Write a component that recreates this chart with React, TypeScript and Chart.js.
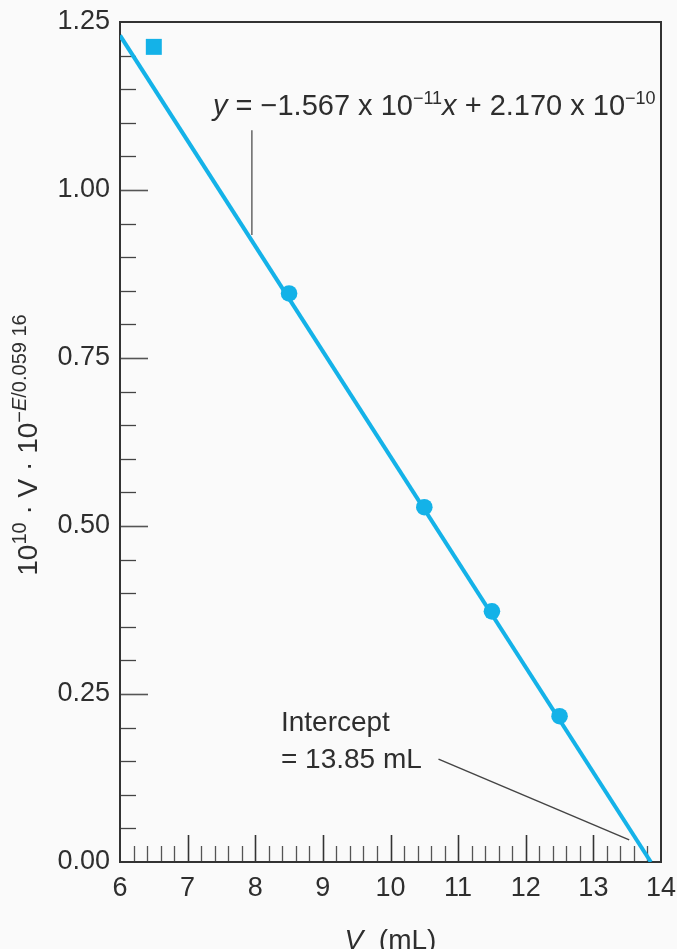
import React, { useEffect, useRef } from "react";
import { Chart, registerables } from "chart.js";

Chart.register(...registerables);

// ---- data ----
const fitLineV = [6, 13.85];
const fitLineY = [1.23, 0];
const circleV = [8.5, 10.5, 11.5, 12.5];
const circleY = [0.846, 0.528, 0.373, 0.217];
const squareV = [6.5];
const squareY = [1.213];
const xTickValues = [6, 7, 8, 9, 10, 11, 12, 13, 14];
const yTickLabels = ["0.00", "0.25", "0.50", "0.75", "1.00", "1.25"];

const equationRuns = [
  { t: "y", i: true },
  { t: " = −1.567 x 10" },
  { t: "−11", s: true },
  { t: "x", i: true },
  { t: " + 2.170 x 10" },
  { t: "−10", s: true },
];
const yTitleRuns = [
  { t: "10" },
  { t: "10", s: true },
  { t: " · V · 10" },
  { t: "−", s: true },
  { t: "E", s: true, i: true },
  { t: "/0.059 16", s: true },
];
const xTitleRuns = [{ t: "V", i: true }, { t: "  (mL)" }];
const interceptLines = ["Intercept", "= 13.85 mL"];

// annotation anchors in data units
const equationAnchor = { x: 7.375, y: 1.1116 };
const equationLeader = [{ x: 7.95, y: 1.089 }, { x: 7.95, y: 0.933 }];
const interceptAnchor = { x: 8.38, y: 0.195, y2: 0.14 };
const interceptLeader = [{ x: 10.71, y: 0.153 }, { x: 13.53, y: 0.033 }];

const FAM = '"Liberation Sans", Arial, Helvetica, sans-serif';
const CYAN = "#14b2e8";
const INK = "#2e2e2e";

type Run = { t: string; i?: boolean; s?: boolean };

function fnt(size: number, italic?: boolean) {
  return `${italic ? "italic " : ""}${size}px ${FAM}`;
}

function runsWidth(ctx: CanvasRenderingContext2D, runs: Run[], size: number, sup: number) {
  let w = 0;
  for (const r of runs) {
    ctx.font = fnt(r.s ? sup : size, r.i);
    w += ctx.measureText(r.t).width;
  }
  return w;
}

function drawRuns(ctx: CanvasRenderingContext2D, runs: Run[], x: number, y: number, size: number, sup: number, rise: number) {
  let cx = x;
  ctx.textBaseline = "alphabetic";
  ctx.textAlign = "left";
  for (const r of runs) {
    ctx.font = fnt(r.s ? sup : size, r.i);
    ctx.fillText(r.t, cx, r.s ? y - rise : y);
    cx += ctx.measureText(r.t).width;
  }
}

const decorPlugin = {
  id: "decor",
  beforeDraw(chart: any) {
    const ctx = chart.ctx;
    ctx.save();
    ctx.fillStyle = "#fafafa";
    ctx.fillRect(0, 0, chart.width, chart.height);
    ctx.restore();
  },
  beforeDatasetsDraw(chart: any) {
    const { ctx, chartArea: a, scales } = chart;
    const xs = scales.x;
    const ys = scales.y;
    ctx.save();
    ctx.lineCap = "butt";
    // x ticks (inward), every 0.2
    for (let i = 1; i < 40; i++) {
      const v = 6 + i * 0.2;
      const px = Math.round(xs.getPixelForValue(v)) + 0.5;
      const major = i % 5 === 0;
      ctx.strokeStyle = major ? "#333" : "#555";
      ctx.lineWidth = major ? 1.6 : 1.3;
      ctx.beginPath();
      ctx.moveTo(px, a.bottom);
      ctx.lineTo(px, a.bottom - (major ? 27 : 16));
      ctx.stroke();
    }
    // y ticks (inward), every 0.05
    for (let i = 1; i < 25; i++) {
      const v = i * 0.05;
      const py = Math.round(ys.getPixelForValue(v)) + 0.5;
      const major = i % 5 === 0;
      ctx.strokeStyle = major ? "#555" : "#444";
      ctx.lineWidth = major ? 1.6 : 1.3;
      ctx.beginPath();
      ctx.moveTo(a.left, py);
      ctx.lineTo(a.left + (major ? 28 : 16), py);
      ctx.stroke();
    }
    // frame
    ctx.strokeStyle = "#333";
    ctx.lineWidth = 2;
    ctx.strokeRect(a.left, a.top, a.right - a.left, a.bottom - a.top);
    ctx.restore();
  },
  afterDraw(chart: any) {
    const { ctx, chartArea: a, scales } = chart;
    const xs = scales.x;
    const ys = scales.y;
    const P = (p: { x: number; y: number }) => [xs.getPixelForValue(p.x), ys.getPixelForValue(p.y)];
    ctx.save();
    ctx.fillStyle = INK;

    // equation
    const [ex, ey] = P(equationAnchor);
    drawRuns(ctx, equationRuns, ex, ey, 29, 18, 11);

    // equation leader
    ctx.strokeStyle = "#666";
    ctx.lineWidth = 1.5;
    const [l1x, l1y] = P(equationLeader[0]);
    const [l2x, l2y] = P(equationLeader[1]);
    ctx.beginPath();
    ctx.moveTo(l1x, l1y);
    ctx.lineTo(l2x, l2y);
    ctx.stroke();

    // intercept text
    const [ix, iy] = P(interceptAnchor);
    const iy2 = ys.getPixelForValue(interceptAnchor.y2);
    ctx.font = fnt(28);
    ctx.textAlign = "left";
    ctx.textBaseline = "alphabetic";
    ctx.fillText(interceptLines[0], ix, iy);
    ctx.fillText(interceptLines[1], ix, iy2);

    // intercept leader
    ctx.strokeStyle = "#444";
    ctx.lineWidth = 1.5;
    const [k1x, k1y] = P(interceptLeader[0]);
    const [k2x, k2y] = P(interceptLeader[1]);
    ctx.beginPath();
    ctx.moveTo(k1x, k1y);
    ctx.lineTo(k2x, k2y);
    ctx.stroke();

    // y title (rotated)
    const tw = runsWidth(ctx, yTitleRuns, 28, 20);
    ctx.save();
    ctx.translate(37, (a.top + a.bottom) / 2 + 3);
    ctx.rotate(-Math.PI / 2);
    drawRuns(ctx, yTitleRuns, -tw / 2, 0, 28, 20, 11);
    ctx.restore();

    // x title
    const xw = runsWidth(ctx, xTitleRuns, 28, 18);
    const cx = (a.left + a.right) / 2;
    drawRuns(ctx, xTitleRuns, cx - xw / 2, 949, 28, 18, 10);
    ctx.restore();
  },
};

export default function App() {
  const ref = useRef<HTMLCanvasElement | null>(null);
  useEffect(() => {
    if (!ref.current) return;
    const chart = new Chart(ref.current, {
      type: "scatter",
      data: {
        datasets: [
          {
            type: "line",
            label: "fit",
            data: fitLineV.map((v, k) => ({ x: v, y: fitLineY[k] })),
            borderColor: CYAN,
            borderWidth: 4,
            pointRadius: 0,
            fill: false,
            order: 3,
          } as any,
          {
            label: "points",
            data: circleV.map((v, k) => ({ x: v, y: circleY[k] })),
            backgroundColor: CYAN,
            borderColor: CYAN,
            borderWidth: 0,
            pointStyle: "circle",
            pointRadius: 8.3,
            order: 1,
          },
          {
            label: "first",
            data: squareV.map((v, k) => ({ x: v, y: squareY[k] })),
            backgroundColor: CYAN,
            borderColor: CYAN,
            borderWidth: 0,
            pointStyle: "rect",
            pointRadius: 11.3,
            order: 2,
          },
        ],
      },
      options: {
        animation: false,
        responsive: false,
        devicePixelRatio: 1,
        layout: { padding: { left: 0, top: 22, right: 16, bottom: 0 } },
        plugins: { legend: { display: false }, tooltip: { enabled: false } },
        scales: {
          x: {
            type: "linear",
            min: 6,
            max: 14,
            afterBuildTicks: (s: any) => {
              s.ticks = xTickValues.map((v) => ({ value: v }));
            },
            ticks: {
              stepSize: 1,
              autoSkip: false,
              maxRotation: 0,
              padding: 10,
              color: INK,
              font: { family: FAM, size: 27 },
              callback: (v: any) => String(v),
            },
            grid: { display: false, drawTicks: false },
            border: { display: true, color: "#333", width: 2 },
            afterFit: (s: any) => {
              s.height = 87;
              s.paddingLeft = 0;
              s.paddingRight = 0;
            },
          },
          y: {
            type: "linear",
            min: 0,
            max: 1.25,
            ticks: {
              stepSize: 0.25,
              padding: 10,
              color: INK,
              font: { family: FAM, size: 27 },
              callback: (v: any) => yTickLabels[Math.round(Number(v) / 0.25)] ?? "",
            },
            grid: { display: false, drawTicks: false },
            border: { display: true, color: "#333", width: 2 },
            afterFit: (s: any) => {
              s.width = 120;
              s.paddingTop = 0;
              s.paddingBottom = 0;
            },
          },
        },
      },
      plugins: [decorPlugin],
    });
    return () => chart.destroy();
  }, []);
  return (
    <div style={{ position: "absolute", left: 0, top: 0, width: 677, height: 949, background: "#fafafa", overflow: "hidden" }}>
      <canvas ref={ref} width={677} height={949} style={{ display: "block" }} />
    </div>
  );
}
